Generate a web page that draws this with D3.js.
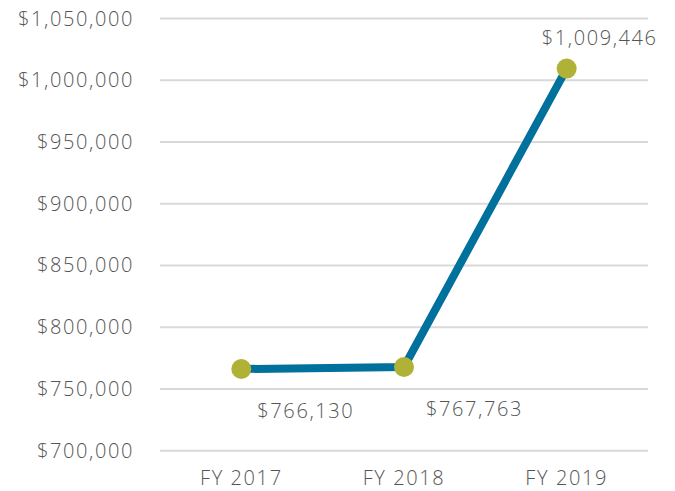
<!DOCTYPE html>
<html>
<head>
<meta charset="utf-8">
<script src="https://cdn.jsdelivr.net/npm/d3@7"></script>
<style>
body { margin:0; background:#fff; }
svg text { font-family: "Open Sans", "Lato", sans-serif; font-weight:300; fill:#555; letter-spacing:1.6px; }
.gridLine { stroke:#d9d9d9; stroke-width:2; }
</style>
</head>
<body>
<div id="chart"></div>
<script>
var years = ["FY 2017", "FY 2018", "FY 2019"]
var amounts = [766130, 767763, 1009446]
var yTicks = [700000, 750000, 800000, 850000, 900000, 950000, 1000000, 1050000]
// label offsets relative to each point: [dx, dy, anchor]
var labelPos = [[16, 49, "start"], [22, 49, "start"], [33, -24, "middle"]]

var W = 675, H = 491
var svg = d3.select("#chart").append("svg")
  .attr("width", W)
  .attr("height", H)

var xScale = d3.scalePoint()
  .domain(years)
  .range([160, 648])
  .padding(0.5)
var yScale = d3.scaleLinear()
  .domain([700000, 1050000])
  .range([450.7, 18.5])

var fmt = d3.format("$,")

/* horizontal grid */
svg.selectAll("line.gridLine")
  .data(yTicks)
  .enter()
  .append("line")
  .attr("class", "gridLine")
  .attr("x1", 160)
  .attr("x2", 648)
  .attr("y1", function(d) { return yScale(d) })
  .attr("y2", function(d) { return yScale(d) })

svg.selectAll("text.yLabel")
  .data(yTicks)
  .enter()
  .append("text")
  .attr("class", "yLabel")
  .text(fmt)
  .attr("x", 134)
  .attr("y", function(d) { return yScale(d) })
  .attr("dy", "0.35em")
  .attr("text-anchor", "end")
  .style("font-size", "20px")

svg.selectAll("text.xLabel")
  .data(years)
  .enter()
  .append("text")
  .attr("class", "xLabel")
  .text(function(d) { return d })
  .attr("x", function(d) { return xScale(d) })
  .attr("y", 485)
  .attr("text-anchor", "middle")
  .style("font-size", "20px")

/* line + points */
var rows = years.map(function(y, i) { return {year: y, value: amounts[i]} })
var line = d3.line()
  .x(function(d) { return xScale(d.year) })
  .y(function(d) { return yScale(d.value) })

svg.append("path")
  .attr("d", line(rows))
  .attr("fill", "none")
  .attr("stroke", "#00709c")
  .attr("stroke-width", 8)
  .attr("stroke-linejoin", "round")

svg.selectAll("circle")
  .data(rows)
  .enter()
  .append("circle")
  .attr("cx", function(d) { return xScale(d.year) })
  .attr("cy", function(d) { return yScale(d.value) })
  .attr("r", 10)
  .attr("fill", "#afb237")

svg.selectAll("text.valLabel")
  .data(rows)
  .enter()
  .append("text")
  .attr("class", "valLabel")
  .text(function(d) { return fmt(d.value) })
  .attr("x", function(d, i) { return xScale(d.year) + labelPos[i][0] })
  .attr("y", function(d, i) { return yScale(d.value) + labelPos[i][1] })
  .attr("text-anchor", function(d, i) { return labelPos[i][2] })
  .style("font-size", "20px")
</script>
</body>
</html>
